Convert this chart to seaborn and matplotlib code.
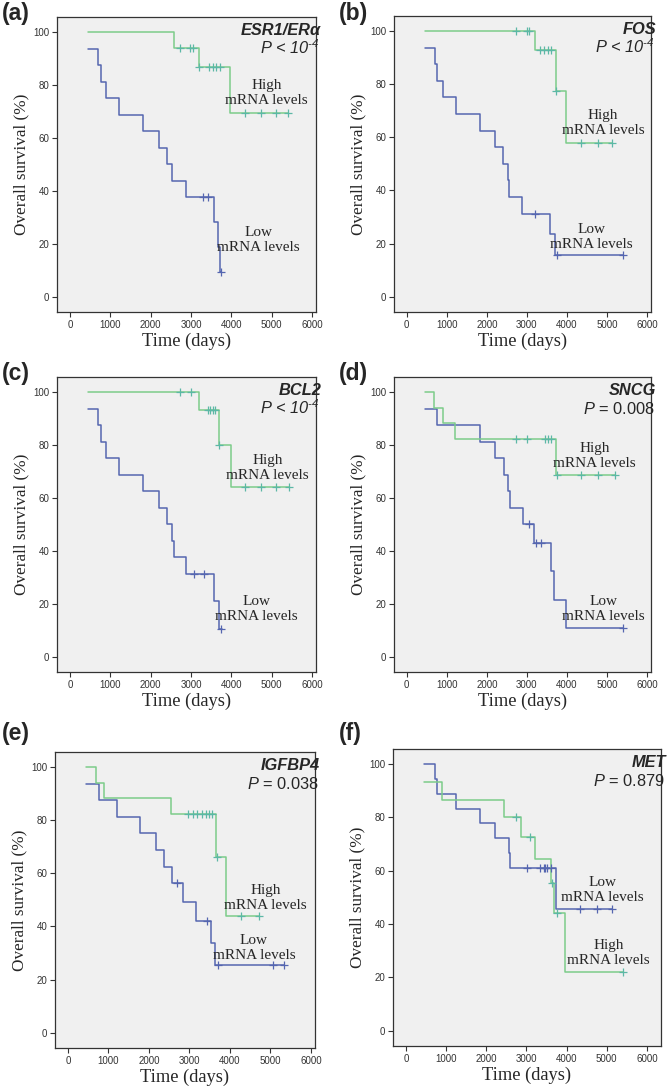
import numpy as np
import pandas as pd
import seaborn as sns
import matplotlib.pyplot as plt

# Kaplan-Meier curves: step times (days) and survival (%)
# (a) ESR1/ERa
a_high_t = [450, 2583, 3204, 3974, 5397]
a_high_s = [100, 94.1, 86.9, 69.5, 69.5]
a_high_cens = [2730, 2980, 3046, 3204, 3450, 3543, 3626, 3725, 4330, 4743, 5116, 5397]
a_low_t = [450, 704, 762, 894, 1217, 1821, 2202, 2400, 2533, 2873, 3568, 3667, 3725, 3750]
a_low_s = [93.75, 87.5, 81.25, 75, 68.75, 62.5, 56.25, 50, 43.75, 37.5, 28.1, 18.75, 9.4, 9.4]
a_low_cens = [3311, 3435, 3745]

# (b) FOS
b_high_t = [450, 3205, 3723, 3982, 5117]
b_high_s = [100, 92.9, 77.6, 58.0, 58.0]
b_high_cens = [2738, 3005, 3063, 3330, 3439, 3523, 3606, 3723, 4349, 4766, 5117]
b_low_t = [450, 704, 762, 894, 1217, 1821, 2202, 2400, 2533, 2560, 2873, 3568, 3690, 5409]
b_low_s = [93.75, 87.5, 81.25, 75, 68.75, 62.5, 56.25, 50, 43.75, 37.5, 31.25, 23.4, 15.6, 15.6]
b_low_cens = [3197, 3748, 5409]

# (c) BCL2
c_high_t = [450, 3203, 3700, 3981, 5430]
c_high_s = [100, 93.3, 80, 64.2, 64.2]
c_high_cens = [2731, 3005, 3435, 3476, 3559, 3600, 3700, 4330, 4743, 5116, 5430]
c_low_t = [450, 704, 762, 894, 1217, 1821, 2202, 2400, 2533, 2574, 2873, 3560, 3686, 3760]
c_low_s = [93.75, 87.5, 81.25, 75, 68.75, 62.5, 56.25, 50, 43.75, 37.5, 31.25, 20.9, 10.4, 10.4]
c_low_cens = [3066, 3330, 3740]

# (d) SNCG
d_high_t = [450, 684, 893, 1202, 3715, 5192]
d_high_s = [100, 94.1, 88.2, 82.3, 68.6, 68.6]
d_high_cens = [2738, 3005, 3464, 3523, 3606, 3748, 4349, 4766, 5192]
d_low_t = [450, 751, 1828, 2212, 2420, 2540, 2575, 2897, 3172, 3614, 3681, 3965, 5409]
d_low_s = [93.75, 87.5, 81.25, 75, 68.75, 62.5, 56.25, 50, 43.0, 32.2, 21.5, 10.8, 10.8]
d_low_cens = [3063, 3230, 3355, 5409]

# (e) IGFBP4
e_high_t = [450, 698, 879, 2539, 3665, 3911, 4725]
e_high_s = [100, 94.1, 88.2, 82.4, 66.0, 44.0, 44.0]
e_high_cens = [2966, 3081, 3196, 3311, 3410, 3476, 3558, 3690, 4281, 4725]
e_low_t = [450, 764, 1216, 1791, 2177, 2383, 2572, 2835, 3163, 3541, 3624, 5341]
e_low_s = [93.75, 87.5, 81.25, 75, 68.75, 62.5, 56.25, 49.2, 42.2, 33.75, 25.3, 25.3]
e_low_cens = [2703, 3425, 3706, 5053, 5341]

# (f) MET
f_high_t = [450, 911, 2442, 2873, 3204, 3601, 3692, 3973, 5397]
f_high_s = [93.3, 86.7, 80, 72.7, 64.5, 55.5, 44.3, 22.1, 22.1]
f_high_cens = [2732, 3080, 3626, 3767, 5397]
f_low_t = [450, 720, 786, 1242, 1838, 2227, 2566, 2591, 3725, 5132]
f_low_s = [100, 94.4, 88.9, 83.3, 77.8, 72.2, 66.7, 61.1, 45.8, 45.8]
f_low_cens = [3005, 3328, 3435, 3460, 3502, 3601, 4346, 4760, 5132]

letters = ['(a)', '(b)', '(c)', '(d)', '(e)', '(f)']
genes = ['ESR1/ERα', 'FOS', 'BCL2', 'SNCG', 'IGFBP4', 'MET']
pvals = [r'$P$ < 10$^{\text{-}4}$', r'$P$ < 10$^{\text{-}4}$', r'$P$ < 10$^{\text{-}4}$',
         r'$P$ = 0.008', r'$P$ = 0.038', r'$P$ = 0.879']
p_italic = [True, True, True, False, False, False]
high_lab_xy = [(4880, 76.8), (4900, 65.5), (4900, 71.4), (4690, 75.7), (4880, 50.8), (5040, 29.1)]
low_lab_xy = [(4680, 21.3), (4620, 22.6), (4620, 17.9), (4910, 17.9), (4590, 31.7), (4890, 52.9)]

curves = [
    (a_high_t, a_high_s, a_high_cens, a_low_t, a_low_s, a_low_cens),
    (b_high_t, b_high_s, b_high_cens, b_low_t, b_low_s, b_low_cens),
    (c_high_t, c_high_s, c_high_cens, c_low_t, c_low_s, c_low_cens),
    (d_high_t, d_high_s, d_high_cens, d_low_t, d_low_s, d_low_cens),
    (e_high_t, e_high_s, e_high_cens, e_low_t, e_low_s, e_low_cens),
    (f_high_t, f_high_s, f_high_cens, f_low_t, f_low_s, f_low_cens),
]

# axes boxes in pixels: left, top, right, bottom
boxes = [(57, 17, 316, 312), (394, 16, 651, 312),
         (57, 377, 316, 672), (394, 377, 651, 672),
         (55, 752, 315, 1048), (393, 749, 661, 1046)]
xlims = [(-320, 6100)] * 5 + [(-320, 6350)]

sns.set_style("white")
plt.rcParams['font.family'] = ['Liberation Sans', 'DejaVu Sans']
plt.rcParams['mathtext.fontset'] = 'custom'
plt.rcParams['mathtext.it'] = 'Liberation Sans:italic'
plt.rcParams['mathtext.rm'] = 'Liberation Sans:italic'

green = '#7ccc8a'
teal = '#5cb8a6'
blue = '#5566b0'

W, H = 669, 1089
fig = plt.figure(figsize=(W / 100, H / 100), dpi=100)


def surv_at(t_steps, s_steps, t):
    idx = np.searchsorted(t_steps, t, side='right') - 1
    return s_steps[max(idx, 0)]


for i, (box, cur) in enumerate(zip(boxes, curves)):
    l, t, r, b = box
    ax = fig.add_axes([l / W, 1 - b / H, (r - l) / W, (b - t) / H])
    ax.set_facecolor('#f0f0f0')
    ht, hs, hc, lt, ls, lc = cur

    high = pd.DataFrame({'time': ht, 'surv': hs})
    low = pd.DataFrame({'time': lt, 'surv': ls})
    sns.lineplot(data=low, x='time', y='surv', ax=ax, color=blue, lw=1.1,
                 drawstyle='steps-post', estimator=None, sort=False)
    sns.lineplot(data=high, x='time', y='surv', ax=ax, color=green, lw=1.1,
                 drawstyle='steps-post', estimator=None, sort=False)

    hcen = pd.DataFrame({'time': hc, 'surv': [surv_at(ht, hs, x) for x in hc]})
    lcen = pd.DataFrame({'time': lc, 'surv': [surv_at(lt, ls, x) for x in lc]})
    sns.scatterplot(data=lcen, x='time', y='surv', ax=ax, marker='+', s=30,
                    color=blue, linewidth=0.9, zorder=3)
    sns.scatterplot(data=hcen, x='time', y='surv', ax=ax, marker='+', s=30,
                    color=teal, linewidth=0.9, zorder=3)

    ax.set_xlim(*xlims[i])
    ax.set_ylim(-5.8, 105.7)
    ax.set_xticks(range(0, 7000, 1000))
    ax.set_yticks(range(0, 120, 20))
    ax.tick_params(axis='both', labelsize=7, length=3.5, width=0.8,
                   colors='#333333', pad=2, bottom=True, left=True)
    for lab in ax.get_xticklabels() + ax.get_yticklabels():
        lab.set_family(['Liberation Sans Narrow', 'Liberation Sans'])
    for sp in ax.spines.values():
        sp.set_color('#333333')
        sp.set_linewidth(0.9)

    ax.set_xlabel('Time (days)', family='Liberation Serif', fontsize=13.3, labelpad=2)
    ax.set_ylabel('Overall survival (%)', family='Liberation Serif', fontsize=12.3, labelpad=3)

    ax.text(1.02, 0.938, genes[i], transform=ax.transAxes, ha='right', va='baseline',
            fontsize=11.8, weight='bold', style='italic')
    ax.text(1.015, 0.874, pvals[i], transform=ax.transAxes, ha='right', va='baseline',
            fontsize=11.8, style='italic' if p_italic[i] else 'normal')

    hx, hy = high_lab_xy[i]
    lx, ly = low_lab_xy[i]
    ax.text(hx, hy, 'High\nmRNA levels', ha='center', va='center', fontsize=11,
            family='Liberation Serif', linespacing=1.2)
    ax.text(lx, ly, 'Low\nmRNA levels', ha='center', va='center', fontsize=11,
            family='Liberation Serif', linespacing=1.2)

    fig.text((2 if i % 2 == 0 else 339) / W, 1 - (2 + 360 * (i // 2)) / H, letters[i],
             ha='left', va='top', fontsize=16.5, weight='bold')

plt.savefig('out.png', dpi=100)
